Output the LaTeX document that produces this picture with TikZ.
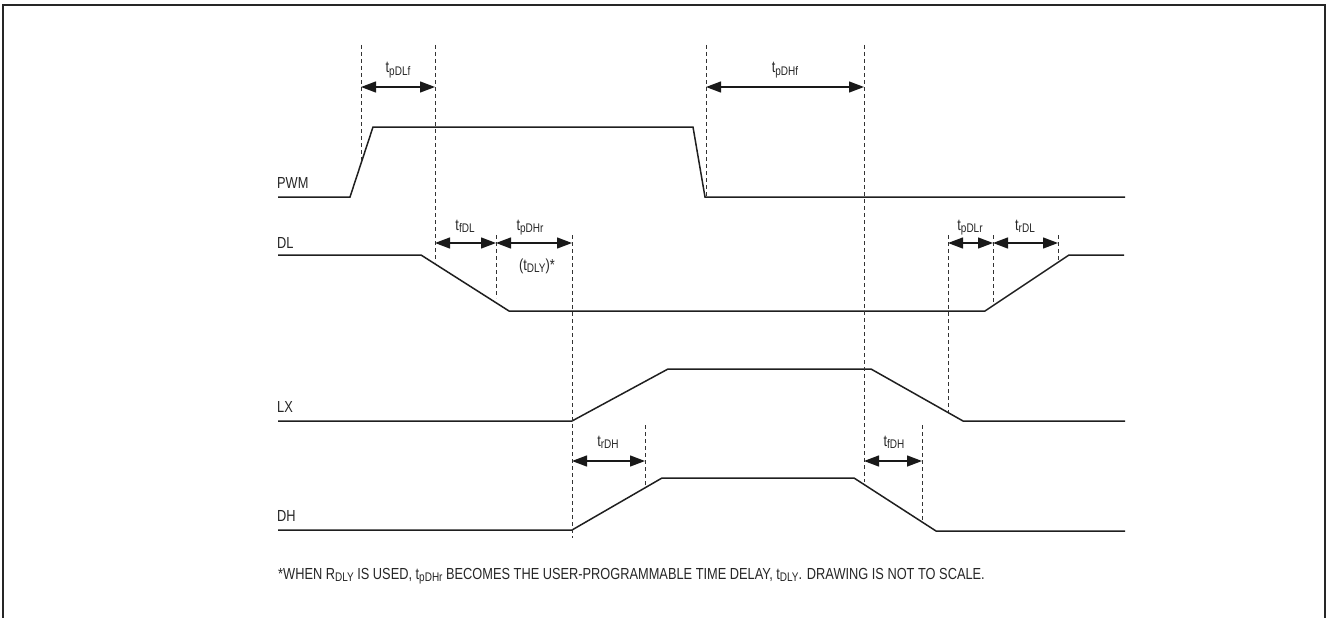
\documentclass[tikz,border=0pt]{standalone}
\usepackage{fontspec}
\setmainfont{Liberation Sans}[FakeStretch=0.8]
\usetikzlibrary{arrows.meta}
\newcommand\lowsub[1]{\raisebox{-0.35ex}{\fontsize{12.5}{12.5}\selectfont #1}}
\begin{document}
\begin{tikzpicture}[x=1pt,y=-1pt,
  sig/.style={line width=1.5pt, color=black!88},
  guide/.style={line width=0.8pt, dash pattern=on 4pt off 3pt, color=black!80},
  dimarrow/.style={line width=1.3pt, color=black!90, {Triangle[length=15pt,width=11pt]}-{Triangle[length=15pt,width=11pt]}},
  lbl/.style={font=\fontsize{16}{16}\selectfont, inner sep=0pt, text=black!85},
  tlbl/.style={lbl, anchor=base},
]
\useasboundingbox (0,0) rectangle (1327,618);
\draw[line width=2.2pt, black!85] (3,618) -- (3,5) -- (1325,5) -- (1325,618);

% signal labels
\node[lbl, anchor=west] (pwm) at (277,183) {PWM};
\node[lbl, anchor=west] (dl) at (277,243) {DL};
\node[lbl, anchor=west] (lx) at (277,407) {LX};
\node[lbl, anchor=west] (dh) at (277,516) {DH};

% waveforms
\draw[sig] (278,197) -- (350,197) -- (373,127) -- (693,127) -- (705,197) -- (1125,197);
\draw[sig] (278,255) -- (421,255) -- (509,311) -- (985,311) -- (1069,255) -- (1124,255);
\draw[sig] (278,421) -- (572,421) -- (668,369) -- (871,369) -- (963,421) -- (1125,421);
\draw[sig] (278,530) -- (572,530) -- (662,478) -- (854,478) -- (936,531) -- (1125,531);

% guide lines
\draw[guide] (361,45) -- (361,163);
\draw[guide] (435,45) -- (435,262);
\draw[guide] (706,45) -- (706,198);
\draw[guide] (864,45) -- (864,482);
\draw[guide] (496,235) -- (496,298);
\draw[guide] (572,235) -- (572,538);
\draw[guide] (948,235) -- (948,412);
\draw[guide] (993,235) -- (993,305);
\draw[guide] (1058,235) -- (1058,262);
\draw[guide] (645,425) -- (645,488);
\draw[guide] (922,425) -- (922,522);

% dimension arrow end points
\coordinate (a1) at (361,87); \coordinate (a2) at (435,87);
\coordinate (b1) at (706,87); \coordinate (b2) at (864,87);
\coordinate (c1) at (435,243); \coordinate (c2) at (496,243); \coordinate (c3) at (572,243);
\coordinate (d1) at (948,243); \coordinate (d2) at (993,243); \coordinate (d3) at (1058,243);
\coordinate (e1) at (572,461); \coordinate (e2) at (645,461);
\coordinate (f1) at (864,461); \coordinate (f2) at (922,461);

\draw[dimarrow] (a1) -- (a2);
\draw[dimarrow] (b1) -- (b2);
\draw[dimarrow] (c1) -- (c2);
\draw[dimarrow] (c2) -- (c3);
\draw[dimarrow] (d1) -- (d2);
\draw[dimarrow] (d2) -- (d3);
\draw[dimarrow] (e1) -- (e2);
\draw[dimarrow] (f1) -- (f2);

% timing labels
\node[tlbl] (tpdlf) at (398,73) {t\lowsub{pDLf}};
\node[tlbl] (tpdhf) at (785,73) {t\lowsub{pDHf}};
\node[tlbl] (tfdl) at (465,230) {t\lowsub{fDL}};
\node[tlbl] (tpdhr) at (530,230) {t\lowsub{pDHr}};
\node[tlbl] (tdly) at (537,270) {(t\lowsub{DLY})*};
\node[tlbl] (tpdlr) at (970,230) {t\lowsub{pDLr}};
\node[tlbl] (trdl) at (1025,230) {t\lowsub{rDL}};
\node[tlbl] (trdh) at (608,446) {t\lowsub{rDH}};
\node[tlbl] (tfdh) at (894,446) {t\lowsub{fDH}};

% footnote
\node[lbl, anchor=base west] (note) at (278,579) {*WHEN R\lowsub{DLY} IS USED, t\lowsub{pDHr} BECOMES THE USER-PROGRAMMABLE TIME DELAY, t\lowsub{DLY}. DRAWING IS NOT TO SCALE.};
\end{tikzpicture}
\end{document}
